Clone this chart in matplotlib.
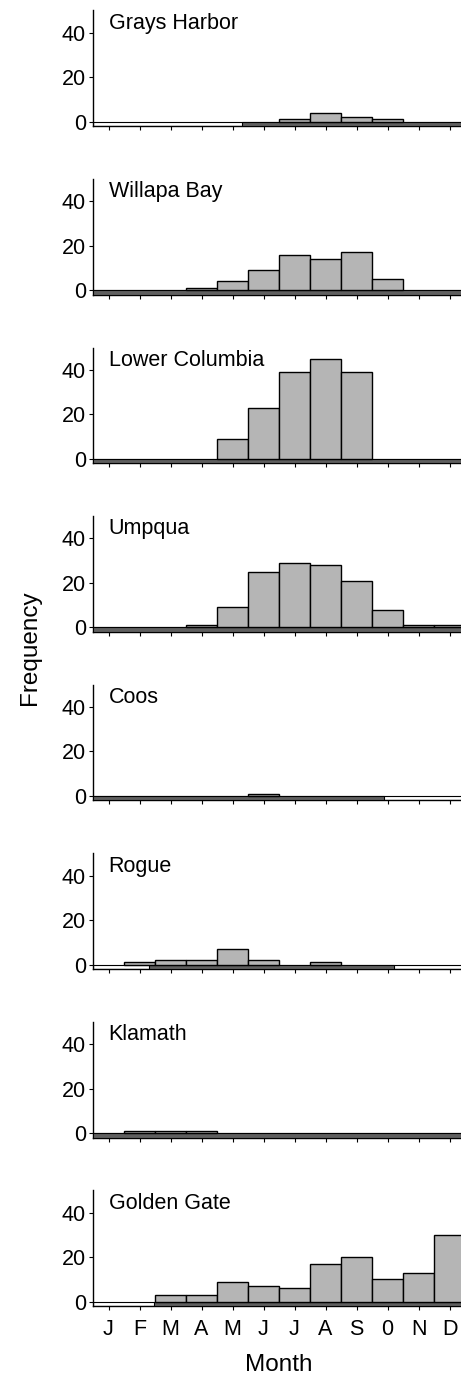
import numpy as np
import matplotlib.pyplot as plt

plt.rcParams['font.family'] = ['Liberation Sans', 'DejaVu Sans']

months = ['J', 'F', 'M', 'A', 'M', 'J', 'J', 'A', 'S', '0', 'N', 'D']
sites = ['Grays Harbor', 'Willapa Bay', 'Lower Columbia', 'Umpqua',
         'Coos', 'Rogue', 'Klamath', 'Golden Gate']

# monthly counts per site
grays = [0, 0, 0, 0, 0, 0, 1, 4, 2, 1, 0, 0]
willapa = [0, 0, 0, 1, 4, 9, 16, 14, 17, 5, 0, 0]
lower_columbia = [0, 0, 0, 0, 9, 23, 39, 45, 39, 0, 0, 0]
umpqua = [0, 0, 0, 1, 9, 25, 29, 28, 21, 8, 1, 1]
coos = [0, 0, 0, 0, 0, 1, 0, 0, 0, 0, 0, 0]
rogue = [0, 1, 2, 2, 7, 2, 0, 1, 0, 0, 0, 0]
klamath = [0, 1, 1, 1, 0, 0, 0, 0, 0, 0, 0, 0]
golden_gate = [0, 0, 3, 3, 9, 7, 6, 17, 20, 10, 13, 30]
counts = [grays, willapa, lower_columbia, umpqua, coos, rogue, klamath, golden_gate]

# sampled period (month units) shown as dark strip under the axis
sample_start = [5.31, 0.5, 0.5, 0.5, 0.5, 2.30, 0.5, 2.48]
sample_end = [12.5, 12.5, 12.5, 12.5, 9.88, 10.2, 12.5, 12.5]

W, H = 461, 1376
fig = plt.figure(figsize=(W / 100, H / 100), dpi=100)

x = np.arange(1, 13)
px_per_unit = 44.5 / 20
for i, site in enumerate(sites):
    zero = 121.7 + i * 168.57
    top = zero - 50 * px_per_unit
    bot = zero + 2 * px_per_unit
    ax = fig.add_axes([93 / W, 1 - bot / H, 372 / W, (bot - top) / H])
    ax.set_xlim(0.5, 12.5)
    ax.set_ylim(-2, 50)

    # strip: white for the whole year, dark where sampled
    ax.broken_barh([(0.5, 12)], (-2, 2), facecolors='white',
                   edgecolors='black', linewidth=0.8, zorder=2)
    ax.broken_barh([(sample_start[i], sample_end[i] - sample_start[i])], (-2, 2),
                   facecolors='#5f5f5f', edgecolors='black', linewidth=0.8, zorder=3)

    c = np.array(counts[i])
    m = c > 0
    ax.bar(x[m], c[m], width=1.0, bottom=0, color='#b5b5b5',
           edgecolor='black', linewidth=1.0, zorder=4)

    ax.text(1.0, 49, site, fontsize=15.5, ha='left', va='top')

    for s in ['top', 'right']:
        ax.spines[s].set_visible(False)
    ax.spines['left'].set_linewidth(1.0)
    ax.spines['bottom'].set_linewidth(1.0)
    ax.set_yticks([0, 20, 40])
    ax.tick_params(axis='y', labelsize=15.5, length=3, width=0.8, pad=2)
    ax.set_xticks(x)
    ax.tick_params(axis='x', length=3, width=0.8, pad=6, labelsize=15.5)
    if i == len(sites) - 1:
        ax.set_xticklabels(months)
    else:
        ax.set_xticklabels([])

fig.text(0.5 * (93 + 465) / W, 1 - 1365 / H, 'Month', fontsize=17.5,
         ha='center', va='center')
fig.text(30 / W, 1 - 648 / H, 'Frequency', fontsize=17.5, rotation=90,
         ha='center', va='center')

fig.savefig('out.png', dpi=100)
